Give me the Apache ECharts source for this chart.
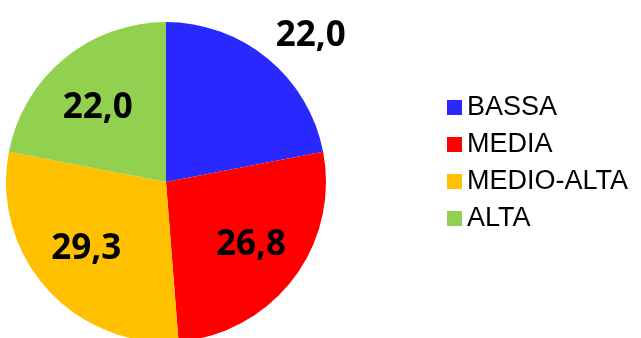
<!DOCTYPE html>
<html>
<head>
<meta charset="utf-8">
<script src="https://cdn.jsdelivr.net/npm/echarts@6/dist/echarts.min.js"></script>
<style>
  html, body { margin: 0; padding: 0; background: #ffffff; }
  #chart { width: 641px; height: 338px; }
</style>
</head>
<body>
<div id="chart"></div>
<script>
// Fasce e quote percentuali
const categories = ['BASSA', 'MEDIA', 'MEDIO-ALTA', 'ALTA'];
const values = [22.0, 26.8, 29.3, 22.0];
const colors = ['#2929FF', '#FF0000', '#FFC000', '#92D050'];

const fmt = v => v.toFixed(1).replace('.', ',');
const center = [166, 182];
const labelFont = {
  color: '#000000',
  fontFamily: 'Open Sans',
  fontWeight: 'bold',
  fontSize: 35
};
// small nudges of each value label away from the slice mid-angle
const labelNudge = [[13, 14], [0, -2], [0, -4], [0, 9]];

const sliceData = categories.map((name, i) => ({
  name,
  value: values[i],
  itemStyle: { color: colors[i] }
}));

// transparent rings that carry the value labels
const labelRing = showFn => categories.map((name, i) => ({
  name,
  value: values[i],
  itemStyle: { color: 'rgba(0,0,0,0)' },
  label: { show: showFn(i), offset: labelNudge[i] }
}));

const chart = echarts.init(document.getElementById('chart'), null, { renderer: 'canvas' });
chart.setOption({
  animation: false,
  backgroundColor: '#ffffff',
  legend: {
    data: categories,
    orient: 'vertical',
    left: 447,
    top: 94,
    padding: 0,
    itemWidth: 15,
    itemHeight: 15,
    itemGap: 10,
    icon: 'rect',
    selectedMode: false,
    textStyle: {
      color: '#000000',
      fontFamily: 'Liberation Sans',
      fontSize: 27,
      lineHeight: 27
    }
  },
  series: [
    {
      type: 'pie',
      center,
      radius: [0, 160],
      startAngle: 90,
      clockwise: true,
      silent: true,
      label: { show: false },
      labelLine: { show: false },
      data: sliceData
    },
    {
      type: 'pie',
      center,
      radius: [48, 160],
      startAngle: 90,
      clockwise: true,
      silent: true,
      legendHoverLink: false,
      label: Object.assign({ position: 'inside', formatter: p => fmt(p.value) }, labelFont),
      labelLine: { show: false },
      data: labelRing(i => i !== 0)
    },
    {
      type: 'pie',
      center,
      radius: [180, 228],
      startAngle: 90,
      clockwise: true,
      silent: true,
      legendHoverLink: false,
      label: Object.assign({ position: 'inside', formatter: p => fmt(p.value) }, labelFont),
      labelLine: { show: false },
      data: labelRing(i => i === 0)
    }
  ]
});
</script>
</body>
</html>
